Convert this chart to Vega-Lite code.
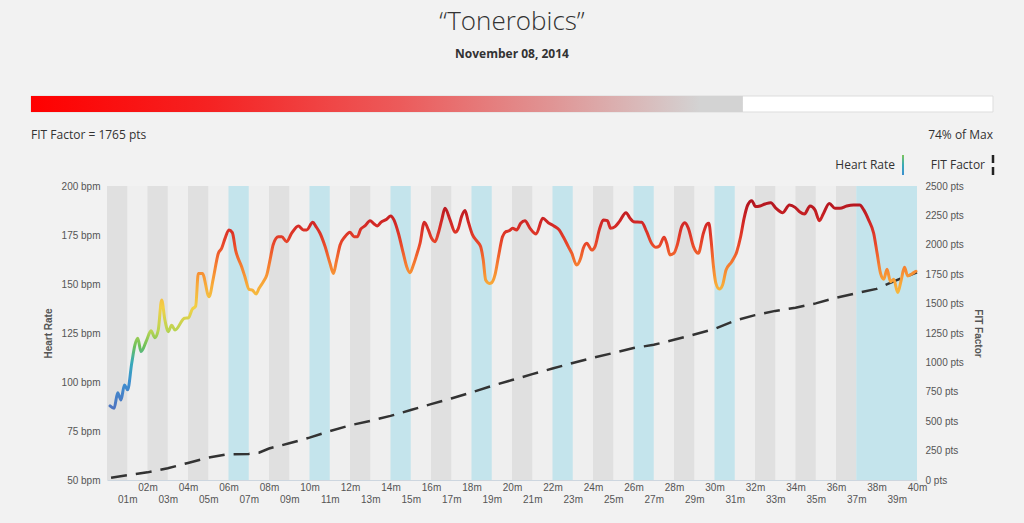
{
  "$schema": "https://vega.github.io/schema/vega-lite/v6.json",
  "width": 810,
  "height": 294,
  "autosize": {"type": "none"},
  "padding": {"left": 107, "right": 107, "top": 186, "bottom": 43},
  "background": "#f2f2f2",
  "title": {
    "text": "“Tonerobics”",
    "subtitle": "November 08, 2014",
    "anchor": "middle",
    "frame": "group",
    "font": "Open Sans",
    "fontSize": 26,
    "fontWeight": 300,
    "color": "#333333",
    "subtitleFont": "Open Sans",
    "subtitleFontSize": 12,
    "subtitleFontWeight": "bold",
    "subtitleColor": "#333333",
    "subtitlePadding": 14,
    "offset": 36
  },
  "config": {
    "view": {"fill": "#efefef", "stroke": null},
    "axis": {
      "labelFont": "Liberation Sans",
      "labelFontSize": 10,
      "labelColor": "#555555",
      "titleFont": "Liberation Sans",
      "titleFontSize": 10,
      "titleFontWeight": "bold",
      "titleColor": "#555555",
      "ticks": false,
      "grid": false,
      "domain": false
    }
  },
  "datasets": {
    "summary": [
      {"fit": 1765, "min": 0, "pct": 74, "max": 100, "caption": "FIT Factor = 1765 pts", "share": "74% of Max"}
    ],
    "series": [{"series": "Heart Rate"}, {"series": "FIT Factor"}]
  },
  "layer": [
    {
      "data": {"values": [
        {"start": 0, "end": 1, "segment": "standard"},
        {"start": 2, "end": 3, "segment": "standard"},
        {"start": 4, "end": 5, "segment": "standard"},
        {"start": 6, "end": 7, "segment": "highlight"},
        {"start": 8, "end": 9, "segment": "standard"},
        {"start": 10, "end": 11, "segment": "highlight"},
        {"start": 12, "end": 13, "segment": "standard"},
        {"start": 14, "end": 15, "segment": "highlight"},
        {"start": 16, "end": 17, "segment": "standard"},
        {"start": 18, "end": 19, "segment": "highlight"},
        {"start": 20, "end": 21, "segment": "standard"},
        {"start": 22, "end": 23, "segment": "highlight"},
        {"start": 24, "end": 25, "segment": "standard"},
        {"start": 26, "end": 27, "segment": "highlight"},
        {"start": 28, "end": 29, "segment": "standard"},
        {"start": 30, "end": 31, "segment": "highlight"},
        {"start": 32, "end": 33, "segment": "standard"},
        {"start": 34, "end": 35, "segment": "standard"},
        {"start": 36, "end": 37, "segment": "standard"},
        {"start": 37, "end": 40, "segment": "highlight"}
      ]},
      "mark": {"type": "rect"},
      "encoding": {
        "x": {
          "field": "start", "type": "quantitative", "title": null,
          "scale": {"domain": [0, 40], "nice": false, "zero": false},
          "axis": {
            "orient": "bottom",
            "title": null,
            "values": [1,2,3,4,5,6,7,8,9,10,11,12,13,14,15,16,17,18,19,20,21,22,23,24,25,26,27,28,29,30,31,32,33,34,35,36,37,38,39,40],
            "labelExpr": "datum.value % 2 == 0 ? format(datum.value, '02d') + 'm' : ['', format(datum.value, '02d') + 'm']",
            "labelBaseline": "top",
            "labelLineHeight": 12.5,
            "labelPadding": 2,
            "labelOverlap": false,
            "labelFlush": false,
            "labelBound": false,
            "domain": true,
            "domainColor": "#cdd6df",
            "domainWidth": 1
          }
        },
        "x2": {"field": "end"},
        "color": {
          "field": "segment", "type": "nominal",
          "scale": {"domain": ["standard", "highlight"], "range": ["#e0e0e0", "#c4e4ec"]},
          "legend": null
        }
      }
    },
    {
      "data": {"values": [
        {"minute": 0.2, "fit": 20}, {"minute": 1, "fit": 40}, {"minute": 2, "fit": 65},
        {"minute": 3, "fit": 100}, {"minute": 4, "fit": 145}, {"minute": 5, "fit": 190},
        {"minute": 5.9, "fit": 218}, {"minute": 7, "fit": 222}, {"minute": 7.5, "fit": 232},
        {"minute": 8, "fit": 268}, {"minute": 9, "fit": 312}, {"minute": 10, "fit": 360},
        {"minute": 11, "fit": 415}, {"minute": 12, "fit": 465}, {"minute": 13, "fit": 503},
        {"minute": 14, "fit": 545}, {"minute": 15, "fit": 595}, {"minute": 16, "fit": 645},
        {"minute": 17, "fit": 693}, {"minute": 18, "fit": 745}, {"minute": 19, "fit": 800},
        {"minute": 20, "fit": 850}, {"minute": 21, "fit": 900}, {"minute": 22, "fit": 948},
        {"minute": 23, "fit": 995}, {"minute": 24, "fit": 1040}, {"minute": 25, "fit": 1080},
        {"minute": 26, "fit": 1122}, {"minute": 27, "fit": 1150}, {"minute": 28, "fit": 1192},
        {"minute": 29, "fit": 1237}, {"minute": 30, "fit": 1285}, {"minute": 31, "fit": 1355},
        {"minute": 32, "fit": 1402}, {"minute": 33, "fit": 1438}, {"minute": 34, "fit": 1465},
        {"minute": 35, "fit": 1502}, {"minute": 36, "fit": 1550}, {"minute": 37, "fit": 1588},
        {"minute": 38, "fit": 1625}, {"minute": 39, "fit": 1700}, {"minute": 40, "fit": 1765}
      ]},
      "mark": {"type": "line", "strokeDash": [16, 9], "strokeWidth": 2.5, "color": "#333333"},
      "encoding": {
        "x": {"field": "minute", "type": "quantitative", "scale": {"domain": [0, 40], "nice": false, "zero": false}, "axis": null},
        "y": {
          "field": "fit", "type": "quantitative",
          "scale": {"domain": [0, 2500], "nice": false},
          "axis": {
            "orient": "right",
            "title": "FIT Factor",
            "values": [0, 250, 500, 750, 1000, 1250, 1500, 1750, 2000, 2250, 2500],
            "labelExpr": "datum.value + ' pts'",
            "labelPadding": 8,
            "titlePadding": 9
          }
        }
      }
    },
    {
      "data": {"values": [
        {"minute": 0.15, "hr": 87.8}, {"minute": 0.35, "hr": 86.6}, {"minute": 0.53, "hr": 94.5},
        {"minute": 0.69, "hr": 90.8}, {"minute": 0.86, "hr": 98.5}, {"minute": 1.02, "hr": 96},
        {"minute": 1.22, "hr": 109.5}, {"minute": 1.38, "hr": 118.9}, {"minute": 1.52, "hr": 122.3},
        {"minute": 1.68, "hr": 115.5}, {"minute": 1.96, "hr": 121.4}, {"minute": 2.17, "hr": 126.2},
        {"minute": 2.37, "hr": 122.6}, {"minute": 2.53, "hr": 126.5}, {"minute": 2.7, "hr": 141.8},
        {"minute": 2.86, "hr": 131.6}, {"minute": 3.03, "hr": 125.7}, {"minute": 3.19, "hr": 129},
        {"minute": 3.36, "hr": 126.5}, {"minute": 3.82, "hr": 132.5}, {"minute": 4.02, "hr": 132.8},
        {"minute": 4.21, "hr": 137.1}, {"minute": 4.38, "hr": 138.8}, {"minute": 4.51, "hr": 155.4},
        {"minute": 4.71, "hr": 155.4}, {"minute": 5.04, "hr": 143.5}, {"minute": 5.25, "hr": 152.9},
        {"minute": 5.5, "hr": 165.7}, {"minute": 5.66, "hr": 168.2}, {"minute": 5.83, "hr": 173.3},
        {"minute": 6.02, "hr": 177.6}, {"minute": 6.19, "hr": 176.2}, {"minute": 6.35, "hr": 167.3},
        {"minute": 6.65, "hr": 158.8}, {"minute": 6.81, "hr": 153.7}, {"minute": 7.01, "hr": 147.3},
        {"minute": 7.18, "hr": 146.9}, {"minute": 7.36, "hr": 144.9}, {"minute": 7.51, "hr": 147.8},
        {"minute": 7.72, "hr": 151.2}, {"minute": 7.89, "hr": 154.6}, {"minute": 8.05, "hr": 162.2},
        {"minute": 8.21, "hr": 170.2}, {"minute": 8.46, "hr": 174.1}, {"minute": 8.63, "hr": 174.1},
        {"minute": 8.87, "hr": 171.6}, {"minute": 9.12, "hr": 175.9}, {"minute": 9.45, "hr": 179.6},
        {"minute": 9.7, "hr": 177.6}, {"minute": 9.86, "hr": 177.6}, {"minute": 10.16, "hr": 181.5},
        {"minute": 10.32, "hr": 179.3}, {"minute": 10.52, "hr": 175.9}, {"minute": 10.77, "hr": 169.1},
        {"minute": 11.01, "hr": 160.6}, {"minute": 11.18, "hr": 155.4}, {"minute": 11.34, "hr": 162.2},
        {"minute": 11.51, "hr": 169.9}, {"minute": 11.75, "hr": 174.1}, {"minute": 12.0, "hr": 176.4},
        {"minute": 12.2, "hr": 174.1}, {"minute": 12.36, "hr": 174.1}, {"minute": 12.53, "hr": 178},
        {"minute": 12.74, "hr": 179.6}, {"minute": 12.99, "hr": 182.3}, {"minute": 13.19, "hr": 180.6},
        {"minute": 13.35, "hr": 179.6}, {"minute": 13.51, "hr": 181.3}, {"minute": 13.81, "hr": 183},
        {"minute": 14.01, "hr": 184.7}, {"minute": 14.17, "hr": 182.7}, {"minute": 14.39, "hr": 175.9},
        {"minute": 14.63, "hr": 165.7}, {"minute": 14.8, "hr": 158.8}, {"minute": 14.96, "hr": 155.8},
        {"minute": 15.13, "hr": 159.7}, {"minute": 15.29, "hr": 164.8}, {"minute": 15.46, "hr": 170.8},
        {"minute": 15.67, "hr": 181.5}, {"minute": 15.87, "hr": 177.6}, {"minute": 16.03, "hr": 173.3},
        {"minute": 16.2, "hr": 171.6}, {"minute": 16.36, "hr": 175.9}, {"minute": 16.53, "hr": 182.7},
        {"minute": 16.69, "hr": 188.6}, {"minute": 16.94, "hr": 182.7}, {"minute": 17.19, "hr": 176.4},
        {"minute": 17.35, "hr": 178.4}, {"minute": 17.51, "hr": 184.4}, {"minute": 17.68, "hr": 187.5},
        {"minute": 17.84, "hr": 181.8}, {"minute": 18.04, "hr": 175.3}, {"minute": 18.29, "hr": 171.6},
        {"minute": 18.45, "hr": 169.1}, {"minute": 18.58, "hr": 162.2}, {"minute": 18.7, "hr": 152},
        {"minute": 18.88, "hr": 150.3}, {"minute": 19.0, "hr": 150.7}, {"minute": 19.16, "hr": 154.6},
        {"minute": 19.33, "hr": 163.9}, {"minute": 19.53, "hr": 174.1}, {"minute": 19.7, "hr": 176.7},
        {"minute": 19.87, "hr": 177.2}, {"minute": 20.03, "hr": 178.4}, {"minute": 20.23, "hr": 177.6},
        {"minute": 20.43, "hr": 181}, {"minute": 20.64, "hr": 182.3}, {"minute": 20.89, "hr": 178.4},
        {"minute": 21.19, "hr": 175.5}, {"minute": 21.52, "hr": 183.5}, {"minute": 21.79, "hr": 181.3},
        {"minute": 22.07, "hr": 179.6}, {"minute": 22.33, "hr": 177.6}, {"minute": 22.53, "hr": 174.1},
        {"minute": 22.78, "hr": 169.1}, {"minute": 22.95, "hr": 165.7}, {"minute": 23.19, "hr": 159.7},
        {"minute": 23.39, "hr": 163.1}, {"minute": 23.52, "hr": 168.2}, {"minute": 23.69, "hr": 170.8},
        {"minute": 23.94, "hr": 167.3}, {"minute": 24.1, "hr": 169.1}, {"minute": 24.31, "hr": 177.6},
        {"minute": 24.51, "hr": 182.7}, {"minute": 24.71, "hr": 182.3}, {"minute": 24.87, "hr": 178.4},
        {"minute": 25.09, "hr": 179.3}, {"minute": 25.3, "hr": 181.8}, {"minute": 25.63, "hr": 186.4},
        {"minute": 25.83, "hr": 183.5}, {"minute": 26.0, "hr": 181.8}, {"minute": 26.4, "hr": 181.5},
        {"minute": 26.65, "hr": 176.7}, {"minute": 26.89, "hr": 170.8}, {"minute": 27.11, "hr": 168.7},
        {"minute": 27.28, "hr": 169.4}, {"minute": 27.51, "hr": 173.8}, {"minute": 27.64, "hr": 170.8},
        {"minute": 27.8, "hr": 164.8}, {"minute": 28.0, "hr": 165.7}, {"minute": 28.16, "hr": 169.9},
        {"minute": 28.38, "hr": 179.3}, {"minute": 28.54, "hr": 181.3}, {"minute": 28.71, "hr": 178.4},
        {"minute": 28.96, "hr": 169.1}, {"minute": 29.2, "hr": 165.7}, {"minute": 29.45, "hr": 175.9},
        {"minute": 29.62, "hr": 180.5}, {"minute": 29.72, "hr": 181}, {"minute": 29.83, "hr": 172.5},
        {"minute": 29.95, "hr": 158.8}, {"minute": 30.07, "hr": 150.3}, {"minute": 30.24, "hr": 147.4},
        {"minute": 30.4, "hr": 149.5}, {"minute": 30.57, "hr": 157.1}, {"minute": 30.85, "hr": 161.4},
        {"minute": 31.1, "hr": 166.5}, {"minute": 31.29, "hr": 174.1}, {"minute": 31.46, "hr": 183.5},
        {"minute": 31.64, "hr": 190.3}, {"minute": 31.84, "hr": 192.5}, {"minute": 32.03, "hr": 189.5},
        {"minute": 32.25, "hr": 189.8}, {"minute": 32.5, "hr": 190.8}, {"minute": 32.78, "hr": 191.5},
        {"minute": 33.04, "hr": 188.6}, {"minute": 33.37, "hr": 186.4}, {"minute": 33.7, "hr": 190.3},
        {"minute": 33.98, "hr": 189.1}, {"minute": 34.2, "hr": 186.9}, {"minute": 34.44, "hr": 185.7},
        {"minute": 34.72, "hr": 189.8}, {"minute": 34.96, "hr": 187.8}, {"minute": 35.18, "hr": 182.3},
        {"minute": 35.37, "hr": 185.7}, {"minute": 35.67, "hr": 191.1}, {"minute": 35.95, "hr": 188.6},
        {"minute": 36.2, "hr": 188.6}, {"minute": 36.53, "hr": 189.8}, {"minute": 36.87, "hr": 190.3},
        {"minute": 37.17, "hr": 190.3}, {"minute": 37.37, "hr": 187.8}, {"minute": 37.61, "hr": 182.7},
        {"minute": 37.86, "hr": 175.9}, {"minute": 38.03, "hr": 165.7}, {"minute": 38.2, "hr": 155.4},
        {"minute": 38.36, "hr": 152.4}, {"minute": 38.52, "hr": 157.5}, {"minute": 38.69, "hr": 151.2},
        {"minute": 38.85, "hr": 152.4}, {"minute": 39.05, "hr": 145.6}, {"minute": 39.22, "hr": 152},
        {"minute": 39.38, "hr": 158.5}, {"minute": 39.54, "hr": 154.1}, {"minute": 39.84, "hr": 155.8},
        {"minute": 39.95, "hr": 156.5}
      ]},
      "mark": {
        "type": "line",
        "interpolate": "monotone",
        "strokeWidth": 3,
        "strokeCap": "round",
        "strokeJoin": "round",
        "color": {
          "gradient": "linear",
          "x1": 0, "y1": 1, "x2": 0, "y2": 0,
          "stops": [
            {"offset": 0, "color": "#4e74c0"},
            {"offset": 0.127, "color": "#3c8fd0"},
            {"offset": 0.221, "color": "#38aab8"},
            {"offset": 0.297, "color": "#6cc05a"},
            {"offset": 0.372, "color": "#b8d452"},
            {"offset": 0.485, "color": "#f2d046"},
            {"offset": 0.599, "color": "#f8a838"},
            {"offset": 0.693, "color": "#f57c30"},
            {"offset": 0.788, "color": "#e9482a"},
            {"offset": 0.882, "color": "#d52a26"},
            {"offset": 1, "color": "#b1141f"}
          ]
        }
      },
      "encoding": {
        "x": {"field": "minute", "type": "quantitative", "scale": {"domain": [0, 40], "nice": false, "zero": false}, "axis": null},
        "y": {
          "field": "hr", "type": "quantitative",
          "scale": {"domain": [50, 200], "nice": false, "zero": false},
          "axis": {
            "orient": "left",
            "title": "Heart Rate",
            "values": [50, 75, 100, 125, 150, 175, 200],
            "labelExpr": "datum.value + ' bpm'",
            "labelPadding": 7,
            "titlePadding": 8
          }
        }
      }
    },
    {
      "data": {"name": "summary"},
      "mark": {"type": "rect", "fill": "#ffffff", "stroke": "#dddddd", "strokeWidth": 1},
      "encoding": {
        "x": {"field": "min", "type": "quantitative", "scale": {"domain": [0, 100], "range": [-76, 886]}, "axis": null},
        "x2": {"field": "max"},
        "y": {"datum": 0, "type": "quantitative", "scale": {"domain": [0, 1], "range": [-74, -90]}, "axis": null},
        "y2": {"datum": 1}
      }
    },
    {
      "data": {"name": "summary"},
      "mark": {
        "type": "rect",
        "fill": {
          "gradient": "linear", "x1": 0, "y1": 0, "x2": 1, "y2": 0,
          "stops": [
            {"offset": 0, "color": "#ff0000"},
            {"offset": 0.25, "color": "#f52222"},
            {"offset": 0.52, "color": "#ec5b5b"},
            {"offset": 0.73, "color": "#e09494"},
            {"offset": 0.87, "color": "#d8bebe"},
            {"offset": 0.94, "color": "#d3d3d3"},
            {"offset": 1, "color": "#d3d3d3"}
          ]
        }
      },
      "encoding": {
        "x": {"field": "min", "type": "quantitative", "scale": {"domain": [0, 100], "range": [-76, 886]}, "axis": null},
        "x2": {"field": "pct"},
        "y": {"datum": 0, "type": "quantitative", "scale": {"domain": [0, 1], "range": [-74, -90]}, "axis": null},
        "y2": {"datum": 1}
      }
    },
    {
      "data": {"name": "summary"},
      "mark": {"type": "text", "align": "left", "baseline": "middle", "font": "Open Sans", "fontSize": 12, "color": "#333333"},
      "encoding": {
        "x": {"field": "min", "type": "quantitative", "scale": {"domain": [0, 100], "range": [-76, 886]}, "axis": null},
        "y": {"datum": 0.5, "type": "quantitative", "scale": {"domain": [0, 1], "range": [-41, -61]}, "axis": null},
        "text": {"field": "caption"}
      }
    },
    {
      "data": {"name": "summary"},
      "mark": {"type": "text", "align": "right", "baseline": "middle", "font": "Open Sans", "fontSize": 12, "color": "#333333"},
      "encoding": {
        "x": {"field": "max", "type": "quantitative", "scale": {"domain": [0, 100], "range": [-76, 886]}, "axis": null},
        "y": {"datum": 0.5, "type": "quantitative", "scale": {"domain": [0, 1], "range": [-41, -61]}, "axis": null},
        "text": {"field": "share"}
      }
    },
    {
      "data": {"name": "series"},
      "mark": {"type": "text", "align": "right", "baseline": "middle", "dx": -8, "font": "Open Sans", "fontSize": 12, "color": "#333333"},
      "encoding": {
        "x": {"field": "series", "type": "nominal", "scale": {"type": "point", "domain": ["Heart Rate", "FIT Factor"], "range": [796, 886], "padding": 0}, "axis": null},
        "y": {"datum": 0.5, "type": "quantitative", "scale": {"domain": [0, 1], "range": [-11, -31]}, "axis": null},
        "text": {"field": "series"}
      }
    },
    {
      "data": {"name": "series"},
      "transform": [{"filter": "datum.series == 'Heart Rate'"}],
      "mark": {
        "type": "point",
        "shape": "M-0.1,-1L0.1,-1L0.1,1L-0.1,1Z",
        "size": 400,
        "filled": true,
        "opacity": 1,
        "strokeWidth": 0,
        "color": {
          "gradient": "linear", "x1": 0, "y1": 1, "x2": 0, "y2": 0,
          "stops": [
            {"offset": 0, "color": "#3c8fd0"},
            {"offset": 0.5, "color": "#38aab8"},
            {"offset": 1, "color": "#7cc55a"}
          ]
        }
      },
      "encoding": {
        "x": {"field": "series", "type": "nominal", "scale": {"type": "point", "domain": ["Heart Rate", "FIT Factor"], "range": [796, 886], "padding": 0}, "axis": null},
        "y": {"datum": 0.5, "type": "quantitative", "scale": {"domain": [0, 1], "range": [-11, -31]}, "axis": null}
      }
    },
    {
      "data": {"name": "series"},
      "transform": [{"filter": "datum.series == 'FIT Factor'"}],
      "mark": {"type": "rule", "strokeWidth": 2.5, "strokeDash": [8, 4], "color": "#222222"},
      "encoding": {
        "x": {"field": "series", "type": "nominal", "scale": {"type": "point", "domain": ["Heart Rate", "FIT Factor"], "range": [796, 886], "padding": 0}, "axis": null},
        "y": {"datum": 0, "type": "quantitative", "scale": {"domain": [0, 1], "range": [-11, -31]}, "axis": null},
        "y2": {"datum": 1}
      }
    }
  ],
  "resolve": {"scale": {"x": "independent", "y": "independent"}}
}
